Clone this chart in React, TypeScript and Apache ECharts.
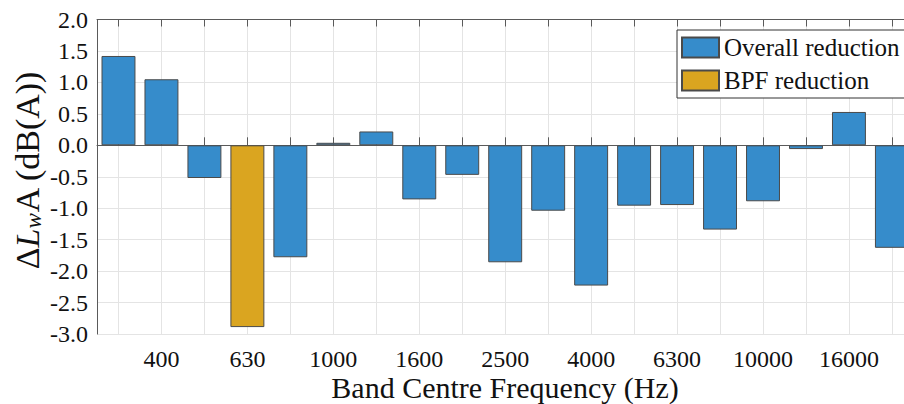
import React, { useEffect, useRef } from "react";
import * as echarts from "echarts";

const categories = [
  "315", "400", "500", "630", "800", "1000", "1250", "1600", "2000", "2500",
  "3150", "4000", "5000", "6300", "8000", "10000", "12500", "16000", "20000",
];
const overallReduction: (number | string)[] = [
  1.42, 1.05, -0.52, "-", -1.78, 0.04, 0.22, -0.86, -0.47, -1.86,
  -1.04, -2.23, -0.96, -0.95, -1.34, -0.89, -0.06, 0.53, -1.63,
];
const bpfReduction: (number | string)[] = [
  "-", "-", "-", -2.89, "-", "-", "-", "-", "-", "-",
  "-", "-", "-", "-", "-", "-", "-", "-", "-",
];
const yMin = -3;
const yMax = 2;
const yStep = 0.5;

const FONT = "Liberation Serif";
const BLUE = "#368ccb";
const GOLD = "#daa520";
const EDGE = "#4a4a4a";
const AXIS = "#5a5a5a";
const GRID = "#e4e4e4";

export default function App() {
  const ref = useRef<HTMLDivElement>(null);
  useEffect(() => {
    if (!ref.current) return;
    const chart = echarts.init(ref.current, undefined, { renderer: "svg" });
    chart.setOption({
      animation: false,
      backgroundColor: "#ffffff",
      textStyle: { fontFamily: FONT, fontStyle: "normal", fontWeight: "normal" },
      grid: { left: 97, top: 19.5, width: 816.4, height: 314.5, containLabel: false },
      legend: {
        orient: "vertical",
        left: 677,
        top: 30,
        padding: [5, 5, 5, 4],
        itemWidth: 37,
        itemHeight: 20,
        itemGap: 8,
        icon: "rect",
        backgroundColor: "#ffffff",
        borderColor: "#333333",
        borderWidth: 1,
        textStyle: { fontFamily: FONT, fontSize: 25, color: "#111", lineHeight: 20 },
        data: ["Overall reduction", "BPF reduction"],
      },
      xAxis: [
        {
          type: "category",
          data: categories,
          position: "bottom",
          boundaryGap: true,
          axisLine: { show: true, lineStyle: { color: AXIS, width: 1 } },
          axisTick: { show: true, inside: true, length: 8, alignWithLabel: true, interval: 0, lineStyle: { color: AXIS } },
          axisLabel: {
            interval: (index: number) => index % 2 === 1,
            fontFamily: FONT,
            fontSize: 24,
            color: "#111",
            margin: 13,
          },
          splitLine: { show: true, alignWithLabel: true, interval: 0, lineStyle: { color: GRID, width: 1 } },
        },
        {
          type: "category",
          data: categories,
          position: "top",
          boundaryGap: true,
          axisLine: { show: true, lineStyle: { color: AXIS, width: 1 } },
          axisTick: { show: true, inside: true, length: 7, alignWithLabel: true, interval: 0, lineStyle: { color: AXIS } },
          axisLabel: { show: false },
          splitLine: { show: false },
        },
      ],
      yAxis: {
        type: "value",
        min: yMin,
        max: yMax,
        interval: yStep,
        axisLine: { show: true, lineStyle: { color: AXIS, width: 1 } },
        axisTick: { show: false },
        axisLabel: {
          fontFamily: FONT,
          fontSize: 24,
          color: "#111",
          margin: 9,
          formatter: (v: number) => v.toFixed(1),
        },
        splitLine: { show: true, lineStyle: { color: GRID, width: 1 } },
      },
      graphic: [
        {
          type: "text",
          x: 505,
          y: 387,
          style: {
            text: "Band Centre Frequency (Hz)",
            fontFamily: FONT,
            fontSize: 30,
            fill: "#111",
            align: "center",
            verticalAlign: "middle",
          },
        },
        {
          type: "text",
          x: 27,
          y: 170,
          rotation: Math.PI / 2,
          style: {
            text: "{n|Δ}{i|L}{s|w}{n|A (dB(A))}",
            fontFamily: FONT,
            fontSize: 34,
            fill: "#111",
            align: "center",
            verticalAlign: "middle",
            rich: {
              n: { fontFamily: FONT, fontSize: 34, lineHeight: 36, fontStyle: "normal", fill: "#111" },
              i: { fontFamily: FONT, fontSize: 34, lineHeight: 36, fontStyle: "italic", fill: "#111" },
              s: { fontFamily: FONT, fontSize: 23, lineHeight: 20, fontStyle: "italic", verticalAlign: "bottom", fill: "#111" },
            },
          },
        },
      ],
      series: [
        {
          name: "Overall reduction",
          type: "bar",
          stack: "all",
          barWidth: "79%",
          data: overallReduction,
          itemStyle: { color: BLUE, borderColor: EDGE, borderWidth: 1 },
        },
        {
          name: "BPF reduction",
          type: "bar",
          stack: "all",
          barWidth: "79%",
          data: bpfReduction,
          itemStyle: { color: GOLD, borderColor: EDGE, borderWidth: 1 },
        },
      ],
    });
    return () => chart.dispose();
  }, []);
  return (
    <div style={{ position: "fixed", left: 0, top: 0, width: 904, height: 404, overflow: "hidden", background: "#fff" }}>
      <div ref={ref} style={{ width: 940, height: 404 }} />
    </div>
  );
}
